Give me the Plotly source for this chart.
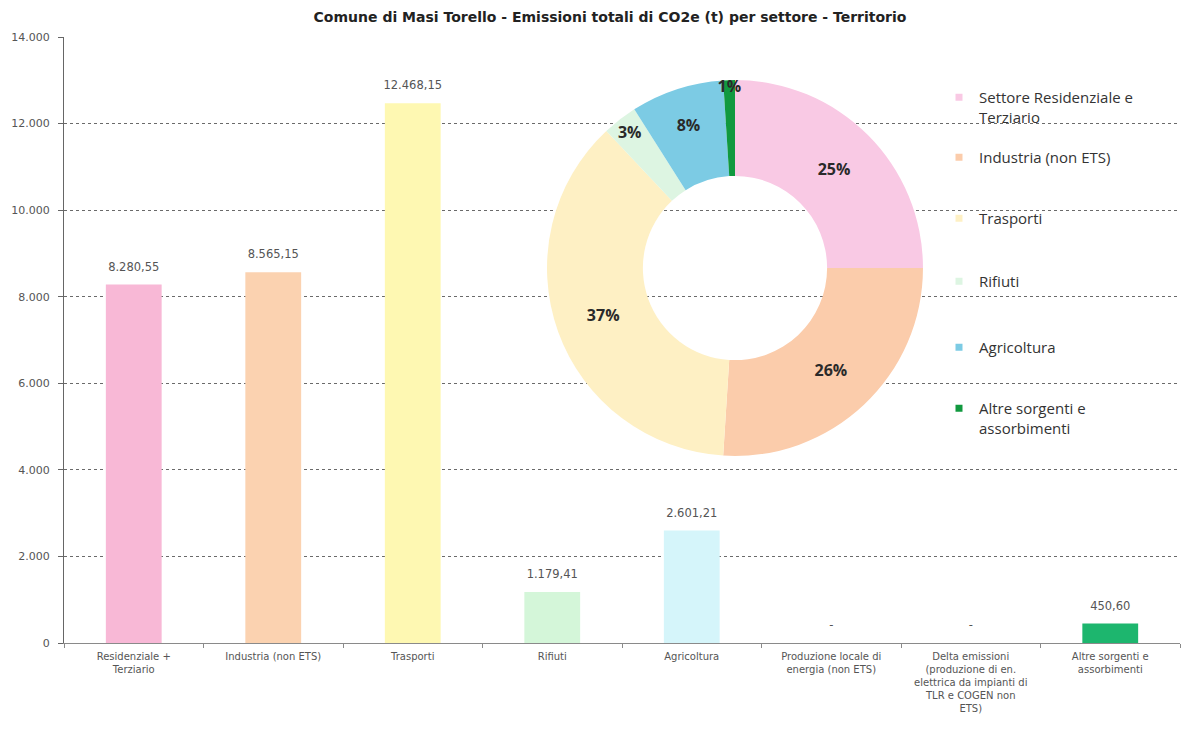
import plotly.graph_objects as go

# --- Data -------------------------------------------------------------------
sectors = [
    "Residenziale +<br>Terziario",
    "Industria (non ETS)",
    "Trasporti",
    "Rifiuti",
    "Agricoltura",
    "Produzione locale di<br>energia (non ETS)",
    "Delta emissioni<br>(produzione di en.<br>elettrica da impianti di<br>TLR e COGEN non<br>ETS)",
    "Altre sorgenti e<br>assorbimenti",
]
emissions_t = [8280.55, 8565.15, 12468.15, 1179.41, 2601.21, 0, 0, 450.60]
bar_colors = ["#F8B8D6", "#FBD2B0", "#FEF8B2", "#D4F6D9", "#D5F5FA",
              "#D5F5FA", "#D5F5FA", "#1DB66E"]

share_labels = [
    "Settore Residenziale e<br>Terziario",
    "Industria (non ETS)",
    "Trasporti",
    "Rifiuti",
    "Agricoltura",
    "Altre sorgenti e<br>assorbimenti",
]
share_pct = [25, 26, 37, 3, 8, 1]
share_colors = ["#F9C9E4", "#FBCCAB", "#FEF0C4", "#DDF5E2", "#7CCBE4", "#11993F"]

y_ticks = [0, 2000, 4000, 6000, 8000, 10000, 12000, 14000]

AXIS_FONT = "DejaVu Sans, Verdana, sans-serif"


def it_number(v):
    """Italian style number: 8.280,55 ; zero shown as '-'."""
    if v == 0:
        return "-"
    s = f"{v:,.2f}"
    return s.replace(",", "X").replace(".", ",").replace("X", ".")


# --- Figure -----------------------------------------------------------------
fig = go.Figure()

fig.add_trace(go.Bar(
    x=sectors,
    y=emissions_t,
    width=0.4,
    marker=dict(color=bar_colors, line=dict(width=0)),
    showlegend=False,
    hoverinfo="skip",
))

# value labels above each bar
fig.add_trace(go.Scatter(
    x=sectors,
    y=emissions_t,
    mode="markers+text",
    marker=dict(size=16, color="rgba(0,0,0,0)"),
    text=[it_number(v) for v in emissions_t],
    textposition="top center",
    textfont=dict(family=AXIS_FONT, size=11.5, color="#555555"),
    cliponaxis=False,
    showlegend=False,
    hoverinfo="skip",
))

fig.add_trace(go.Pie(
    labels=share_labels,
    values=share_pct,
    hole=0.49,
    sort=False,
    direction="clockwise",
    rotation=0,
    marker=dict(colors=share_colors, line=dict(width=0)),
    texttemplate="%{value}%",
    textposition="inside",
    insidetextorientation="horizontal",
    textfont=dict(family="Open Sans, sans-serif", size=16, color="#2a2a2a", weight="bold"),
    domain=dict(x=[0.4328, 0.7697], y=[0.3086, 0.9290]),
    showlegend=False,
    hoverinfo="skip",
))

# One small legend per pie sector, stacked down the right-hand side
legend_first_line_px = [97, 157, 218, 281, 347, 408]
for i, (lab, col) in enumerate(zip(share_labels, share_colors)):
    name = "legend" if i == 0 else f"legend{i + 1}"
    fig.add_trace(go.Scatter(
        x=[None], y=[None], mode="markers", name=lab,
        marker=dict(symbol="square", size=7, color=col),
        legend=name, showlegend=True, hoverinfo="skip",
    ))
    fig.layout[name] = dict(
        x=(939 - 64) / 1116,
        y=(643 - legend_first_line_px[i] + 16) / 606,
        xanchor="left", yanchor="top",
        bgcolor="rgba(0,0,0,0)", borderwidth=0,
        valign="top",
        font=dict(family="Open Sans, sans-serif", size=15, color="#333333"),
    )

fig.update_layout(
    width=1192, height=731,
    margin=dict(l=64, r=12, t=37, b=88),
    paper_bgcolor="white", plot_bgcolor="white",
    separators=",.",
    uniformtext=dict(minsize=16, mode="show"),
    title=dict(
        text="Comune di Masi Torello - Emissioni totali di CO2e (t) per settore - Territorio",
        x=610 / 1192, xanchor="center", y=1 - 17 / 731, yanchor="middle",
        font=dict(family=AXIS_FONT, size=14, color="#222222", weight="bold"),
    ),
    xaxis=dict(
        showline=True, linecolor="#8a8a8a", linewidth=1,
        ticks="outside", ticklen=4, tickcolor="#8a8a8a", tickson="boundaries",
        ticklabelstandoff=4,
        showgrid=False,
        tickfont=dict(family=AXIS_FONT, size=10, color="#555555"),
    ),
    yaxis=dict(
        range=[0, 14000],
        tickvals=y_ticks, tickformat=",d",
        showline=True, linecolor="#666666", linewidth=1,
        ticks="outside", ticklen=5, tickcolor="#666666",
        ticklabelstandoff=6,
        showgrid=True, gridcolor="#6a6a6a", griddash="dot", gridwidth=1,
        zeroline=False,
        tickfont=dict(family=AXIS_FONT, size=11, color="#555555"),
    ),
    shapes=[dict(
        type="rect", xref="paper", yref="paper",
        x0=(522 - 64) / 1116, x1=1.0,
        y0=(643 - 455) / 606, y1=(643 - 45) / 606,
        fillcolor="white", line=dict(width=0), layer="between",
    )],
)

fig.write_html("out.html")
